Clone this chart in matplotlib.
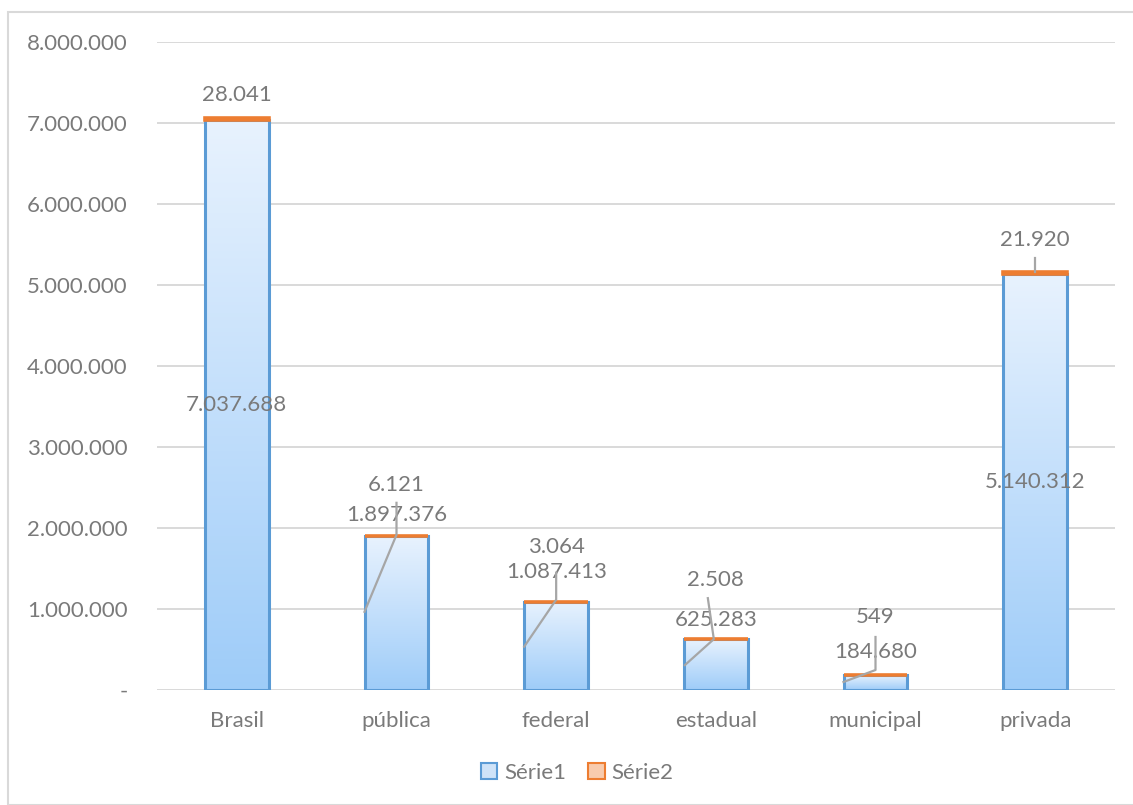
import numpy as np
import matplotlib
matplotlib.use("Agg")
import matplotlib.pyplot as plt
from matplotlib.patches import Rectangle, Patch
from matplotlib.lines import Line2D
from matplotlib.transforms import IdentityTransform

categories = ["Brasil", "pública", "federal", "estadual", "municipal", "privada"]
serie1 = [7037688, 1897376, 1087413, 625283, 184680, 5140312]
serie2 = [28041, 6121, 3064, 2508, 549, 21920]
yticks = [0, 1000000, 2000000, 3000000, 4000000, 5000000, 6000000, 7000000, 8000000]
series_names = ["Série1", "Série2"]

def fmt(v):
    return "-" if v == 0 else f"{v:,}".replace(",", ".")

W, H = 1133, 805
fig = plt.figure(figsize=(W / 100, H / 100), dpi=100)
plt.rcParams['font.family'] = ['Lato', 'DejaVu Sans']
TXT = "#7a7a7a"
FS = 16

ax = fig.add_axes([157 / W, 1 - 690 / H, (1115 - 157) / W, (690 - 42) / H])
ax.set_xlim(-0.5, len(categories) - 0.5)
ax.set_ylim(0, 8000000)
for s in ax.spines.values():
    s.set_visible(False)
ax.set_yticks(yticks)
ax.set_yticklabels([fmt(v) for v in yticks], color=TXT, fontsize=FS)
ax.set_xticks(range(len(categories)))
ax.set_xticklabels(categories, color=TXT, fontsize=FS)
ax.tick_params(axis='both', length=0)
ax.tick_params(axis='y', pad=21)
ax.tick_params(axis='x', pad=15)
ax.yaxis.grid(True, color="#d9d9d9", linewidth=1.4)
ax.set_axisbelow(True)

bw = 0.4
x = np.arange(len(categories))
# gradient fill for Série1
grad = np.linspace(0, 1, 256).reshape(-1, 1)
top_c = np.array([0.91, 0.95, 0.995])
bot_c = np.array([0.62, 0.80, 0.975])
img = (bot_c[None, None, :] * (1 - grad[:, :, None]) + top_c[None, None, :] * grad[:, :, None])
bars1 = ax.bar(x, serie1, width=bw, color="none", edgecolor="#5b9bd5", linewidth=2.2, zorder=3)
for b in bars1:
    x0, w, h = b.get_x(), b.get_width(), b.get_height()
    im = ax.imshow(img, extent=(x0, x0 + w, 0, h), origin='lower', aspect='auto', zorder=2)
    im.set_clip_path(b)
ax.set_xlim(-0.5, len(categories) - 0.5)
ax.set_ylim(0, 8000000)
ax.bar(x, serie2, width=bw, bottom=serie1, color="#f8cbad", edgecolor="#ed7d31", linewidth=2.6, zorder=4)

tops = [a + b for a, b in zip(serie1, serie2)]
# label layout (pixel offsets from bar top); None => centered inside bar
s1_off = [None, 21, 30, 19, 23, None]
s2_off = [23, 51, 55, 59, 58, 32]
for i in range(len(categories)):
    if s1_off[i] is None:
        ax.text(x[i], serie1[i] / 2, fmt(serie1[i]), ha='center', va='center', color=TXT, fontsize=FS, zorder=6)
    else:
        ax.annotate(fmt(serie1[i]), (x[i], tops[i]), xytext=(0, s1_off[i]), textcoords='offset pixels',
                    ha='center', va='center', color=TXT, fontsize=FS, zorder=6)
    ax.annotate(fmt(serie2[i]), (x[i], tops[i]), xytext=(0, s2_off[i]), textcoords='offset pixels',
                ha='center', va='center', color=TXT, fontsize=FS, zorder=6)

# leader lines (pixel offsets from bar top centre)
leaders = [None,
           [(-32, -76), (0, 1), (0, 33)],
           [(-32, -45), (0, 2), (0, 29)],
           [(-31, -26), (-2, 0), (-8, 41)],
           [(-32, -7), (0, 5), (0, 38)],
           [(0, 0), (0, 14)]]
for i, pts in enumerate(leaders):
    if pts is None:
        continue
    bx, by = ax.transData.transform((x[i], tops[i]))
    xs = [bx + p[0] for p in pts]
    ys = [by + p[1] for p in pts]
    fig.add_artist(Line2D(xs, ys, transform=IdentityTransform(), color="#a6a6a6", linewidth=1.6, zorder=5))

handles = [Patch(facecolor="#cfe3f8", edgecolor="#5b9bd5", linewidth=1.5),
           Patch(facecolor="#f8cbad", edgecolor="#ed7d31", linewidth=1.5)]
leg = fig.legend(handles, series_names, loc='center', bbox_to_anchor=(577 / W, 1 - 773 / H), ncol=2,
                 frameon=False, fontsize=FS, handlelength=0.75, handleheight=0.75, handletextpad=0.3,
                 columnspacing=1.0, labelcolor=TXT)

fig.add_artist(Rectangle((8 / W, 0), 1.5, 1 - 12 / H, transform=fig.transFigure, fill=False,
                         edgecolor="#d9d9d9", linewidth=1.5))
fig.savefig("out.png", dpi=100)
